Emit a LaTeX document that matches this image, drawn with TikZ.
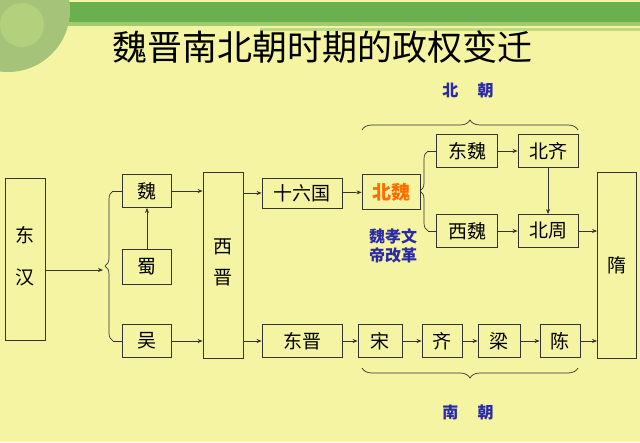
\documentclass[tikz,border=0pt]{standalone}
\usepackage{fontspec}
\setmainfont{Noto Sans CJK SC}
\usetikzlibrary{arrows.meta,decorations.pathreplacing}
\definecolor{bg}{HTML}{F4F4A2}
\definecolor{bar}{HTML}{6BB04F}
\definecolor{lab}{HTML}{2A2AA8}
\begin{document}
\begin{tikzpicture}[x=1pt,y=-1pt,
  bx/.style={draw=black!80,line width=0.8pt,inner sep=0pt,font=\fontsize{19}{21}\selectfont},
  ar/.style={-{Stealth[length=5pt,width=4pt]},line width=0.7pt,black!80},
  br/.style={decorate,decoration={brace,amplitude=8pt},line width=0.7pt,black!80},
  blu/.style={text=lab,font=\fontsize{16}{19}\selectfont\bfseries}]
\useasboundingbox (0,0) rectangle (640,442);
\fill[bg] (0,0) rectangle (640,442);
\fill[bar] (0,2) rectangle (640,22);
\fill[bar!60!bg] (60,22) rectangle (640,26);
\fill[bar!40!bg] (260,28) rectangle (640,31);
\fill[bar!70!gray!60!bg] (8,10) circle (62pt);
\fill[bar!40!bg,opacity=0.6] (22,25) circle (22pt);
\node (title) at (322,47) {\fontsize{35}{38}\selectfont 魏晋南北朝时期的政权变迁};
% boxes
\node[bx,minimum width=40,minimum height=162] (dh) at (25,259) {\begin{tabular}{@{}c@{}}东\\[20pt]汉\end{tabular}};
\node[bx,minimum width=49,minimum height=33] (wei) at (147,191) {魏};
\node[bx,minimum width=49,minimum height=35] (shu) at (147,267) {蜀};
\node[bx,minimum width=49,minimum height=33] (wu) at (147,341) {吴};
\node[bx,minimum width=40,minimum height=186] (xj) at (223,265) {\begin{tabular}{@{}c@{}}西\\[10pt]晋\end{tabular}};
\node[bx,minimum width=80,minimum height=30] (sl) at (302,193) {十六国};
\node[bx,minimum width=58,minimum height=35,text=orange!85!red] (bw) at (391,192) {\bfseries 北魏};
\node[bx,minimum width=61,minimum height=33] (dw) at (467,151) {东魏};
\node[bx,minimum width=60,minimum height=33] (bq) at (548,151) {北齐};
\node[bx,minimum width=61,minimum height=33] (xw) at (467,231) {西魏};
\node[bx,minimum width=60,minimum height=33] (bz) at (548,231) {北周};
\node[bx,minimum width=39,minimum height=186] (sui) at (617,265) {隋};
\node[bx,minimum width=80,minimum height=33] (dj) at (302,341) {东晋};
\node[bx,minimum width=44,minimum height=33] (song) at (380,341) {宋};
\node[bx,minimum width=40,minimum height=33] (qi) at (442,341) {齐};
\node[bx,minimum width=42,minimum height=33] (liang) at (499,341) {梁};
\node[bx,minimum width=40,minimum height=33] (chen) at (560,341) {陈};
% labels
\node[blu] (bc) at (468,90) {北\hspace{1.2em}朝};
\node[blu] (nc) at (468,412) {南\hspace{1.2em}朝};
\node[blu,align=center,inner sep=0pt] (xwd) at (393,246) {魏孝文\\帝改革};
% left brace
\coordinate (lbt) at (103,270);
\draw[br] (113,341) -- (113,191);
\draw[line width=0.7pt,black!80] (113,191) -- (wei.west) (113,341) -- (wu.west);
\draw[ar] (dh.east|-lbt) -- (lbt);
\draw[ar] (shu) -- (wei);
\draw[ar] (wei.east) -- (wei.east-|xj.west);
\draw[ar] (wu.east) -- (wu.east-|xj.west);
\draw[ar] (xj.east|-sl) -- (sl.west);
\draw[ar] (xj.east|-dj) -- (dj.west);
\draw[ar] (sl) -- (bw);
% beiwei brace
\draw[br] (428,231) -- (428,151);
\draw[line width=0.7pt,black!80] (428,151) -- (dw.west) (428,231) -- (xw.west);
\draw[ar] (dw) -- (bq);
\draw[ar] (bq) -- (bz);
\draw[ar] (xw) -- (bz);
\draw[ar] (bz.east) -- (bz.east-|sui.west);
\draw[ar] (dj) -- (song);
\draw[ar] (song) -- (qi);
\draw[ar] (qi) -- (liang);
\draw[ar] (liang) -- (chen);
\draw[ar] (chen.east) -- (chen.east-|sui.west);
% top/bottom braces
\draw[br,decoration={amplitude=10pt}] (362,130) -- (578,130);
\draw[br,decoration={amplitude=10pt}] (578,368) -- (362,368);
\end{tikzpicture}
\end{document}
